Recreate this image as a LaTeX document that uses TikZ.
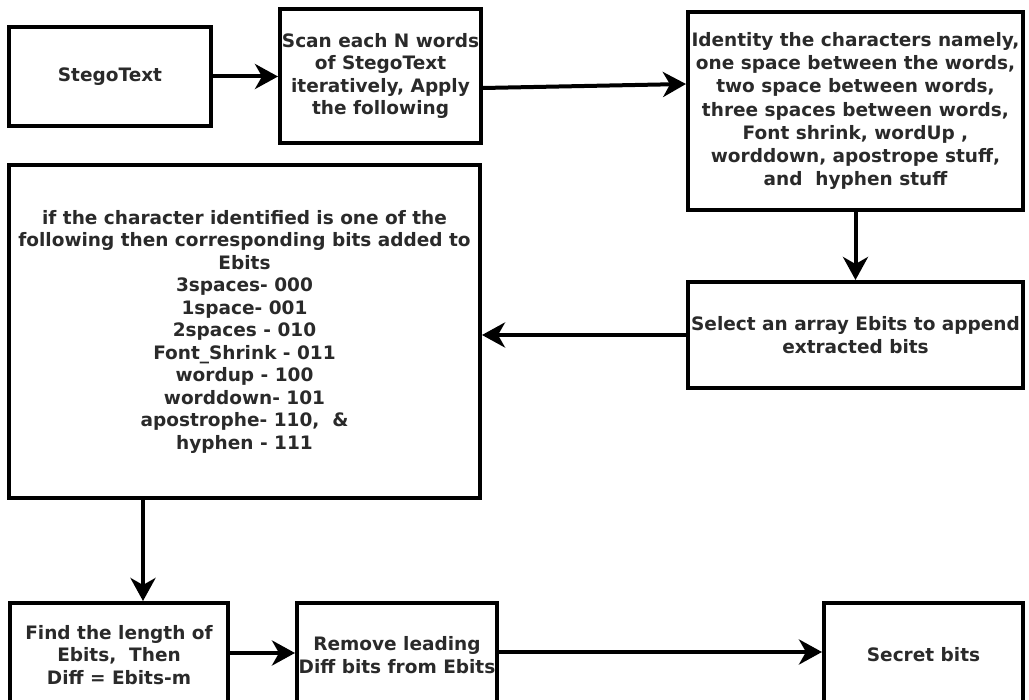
\documentclass[tikz,border=0pt]{standalone}
\usepackage{fontspec}
\setmainfont{DejaVu Sans}
\usetikzlibrary{arrows.meta,calc}
\definecolor{txt}{HTML}{2A2A2A}
\begin{document}
\begin{tikzpicture}[x=1pt,y=-1pt,
  box/.style={draw=black,line width=4pt,rectangle,align=center,inner sep=0pt,
    text=txt,font=\bfseries\fontsize{18.5}{22.5}\selectfont},
  arr/.style={line width=4pt,-{Stealth[length=23pt,width=25pt,inset=7pt]}}]
\useasboundingbox (0,0) rectangle (1029,700);
\fill[white] (0,0) rectangle (1029,700);
\node[box,minimum width=202pt,minimum height=99pt] (stego) at (110,76.5) {StegoText};
\node[box,minimum width=201pt,minimum height=134pt] (scan) at (380.5,76) {Scan each N words\\of StegoText\\iteratively, Apply\\the following};
\node[box,minimum width=335pt,minimum height=198pt,font=\bfseries\fontsize{18.5}{23.2}\selectfont] (ident) at (855.5,111) {Identity the characters namely,\\one space between the words,\\two space between words,\\three spaces between words,\\Font shrink, wordUp ,\\worddown, apostrope stuff,\\and\ \ hyphen stuff};
\node[box,minimum width=335pt,minimum height=106pt] (select) at (855.5,335) {Select an array Ebits to append\\extracted bits};
\node[box,minimum width=471pt,minimum height=333pt] (big) at (244.5,331.5) {if the character identified is one of the\\following then corresponding bits added to\\Ebits\\3spaces- 000\\1space- 001\\2spaces - 010\\Font\_Shrink - 011\\wordup - 100\\worddown- 101\\apostrophe- 110,\ \ \&\\hyphen - 111};
\node[box,minimum width=218pt,minimum height=104pt] (find) at (119,655) {Find the length of\\Ebits,\ \ Then\\Diff = Ebits-m};
\node[box,minimum width=200pt,minimum height=104pt] (remove) at (397,655) {Remove leading\\Diff bits from Ebits};
\node[box,minimum width=199pt,minimum height=104pt] (secret) at (923.5,655) {Secret bits};
\draw[arr] (stego.east) -- (stego.east -| scan.west);
\draw[arr] ($(scan.east)+(0,12)$) -- ($(ident.west)+(0,-27)$);
\draw[arr] (ident.south) -- (select.north);
\draw[arr] (select.west) -- (select.west -| big.east);
\coordinate (bigout) at ($(big.south west)+(136,0)$);
\draw[arr] (bigout) -- (bigout |- find.north);
\draw[arr] ($(find.east)+(0,-2)$) -- ($(remove.west)+(0,-2)$);
\draw[arr] ($(remove.east)+(0,-3)$) -- ($(secret.west)+(0,-3)$);
\end{tikzpicture}
\end{document}
